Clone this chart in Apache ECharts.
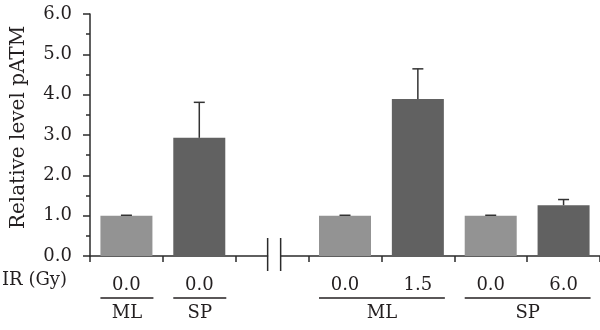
<!DOCTYPE html>
<html><head><meta charset="utf-8">
<script src="https://cdn.jsdelivr.net/npm/echarts@6/dist/echarts.min.js"></script>
<style>html,body{margin:0;padding:0;background:#fff}#c{width:600px;height:330px}</style>
</head><body><div id="c"></div>
<script>
const categories = ['ML 0.0', 'SP 0.0', 'gap', 'ML 0.0 b', 'ML 1.5', 'SP 0.0 b', 'SP 6.0'];
const doseLabels = ['0.0', '0.0', '', '0.0', '1.5', '0.0', '6.0'];
const values = [1.0, 2.93, null, 1.0, 3.89, 1.0, 1.26];
const errors = [0.01, 0.88, null, 0.01, 0.75, 0.01, 0.14];
const shades = ['light', 'dark', null, 'light', 'dark', 'light', 'dark'];
const groups = [
  { name: 'ML', from: 0, to: 0 },
  { name: 'SP', from: 1, to: 1 },
  { name: 'ML', from: 3, to: 4 },
  { name: 'SP', from: 5, to: 6 }
];
const breakIndex = 2;
const rowLabel = 'IR (Gy)';
const yTitle = 'Relative level pATM';

const FONT = 'DejaVu Serif';
const FS = 18;
const TXT = '#231f20';
const AX = '#2b2b2b';
const COLORS = { light: '#939393', dark: '#616161' };
const BAR_W = 52;

const chart = echarts.init(document.getElementById('c'), null, { renderer: 'canvas' });

const barData = values.map((v, i) => v == null ? '-' : { value: v, itemStyle: { color: COLORS[shades[i]] } });
const errData = [];
values.forEach((v, i) => { if (v != null) errData.push([i, v, errors[i]]); });

chart.setOption({
  animation: false,
  grid: { left: 90, top: 14, width: 510, height: 242 },
  xAxis: {
    type: 'category',
    data: categories,
    axisLine: { show: true, lineStyle: { color: AX, width: 1.5 } },
    axisTick: { show: true, length: 6, lineStyle: { color: AX, width: 1.5 } },
    axisLabel: {
      margin: 20,
      fontFamily: FONT, fontSize: FS, color: TXT,
      formatter: (val, idx) => doseLabels[idx]
    },
    splitLine: { show: false }
  },
  yAxis: {
    type: 'value', min: 0, max: 6, interval: 1,
    name: yTitle, nameLocation: 'middle', nameGap: 61, nameRotate: 90,
    nameTextStyle: { fontFamily: FONT, fontSize: 20, color: TXT, padding: [0, 0, 0, 15] },
    axisLine: { show: true, lineStyle: { color: AX, width: 1.5 } },
    axisTick: { show: true, length: 7, lineStyle: { color: AX, width: 1.5 } },
    minorTick: { show: true, splitNumber: 2, length: 4, lineStyle: { color: AX, width: 1.5 } },
    axisLabel: { fontFamily: FONT, fontSize: FS, color: TXT, margin: 18, formatter: v => v.toFixed(1) },
    splitLine: { show: false }
  },
  series: [
    { type: 'bar', data: barData, barWidth: BAR_W, z: 2 },
    {
      type: 'custom', data: errData, z: 3,
      renderItem: (params, api) => {
        const x = api.value(0), m = api.value(1), e = api.value(2);
        const base = api.coord([x, m]);
        const top = api.coord([x, m + e]);
        return {
          type: 'group', children: [
            { type: 'line', shape: { x1: base[0], y1: base[1], x2: top[0], y2: top[1] }, style: { stroke: '#333', lineWidth: 1.5 } },
            { type: 'line', shape: { x1: top[0] - 5.5, y1: top[1], x2: top[0] + 5.5, y2: top[1] }, style: { stroke: '#333', lineWidth: 1.5 } }
          ]
        };
      }
    }
  ]
});

// decorations positioned from the library's scales
const y0 = chart.convertToPixel({ yAxisIndex: 0 }, 0);
const px = i => chart.convertToPixel({ xAxisIndex: 0 }, i);
const txtStyle = (t, align) => ({ text: t, fontFamily: FONT, fontSize: FS, fill: TXT, align: align, verticalAlign: 'middle' });
const g = [];
groups.forEach(gr => {
  const x1 = px(gr.from) - BAR_W / 2;
  const x2 = px(gr.to) + BAR_W / 2 + 1;
  g.push({ type: 'line', shape: { x1: x1, y1: y0 + 42, x2: x2, y2: y0 + 42 }, style: { stroke: TXT, lineWidth: 1.5 } });
  g.push({ type: 'text', x: (x1 + x2) / 2, y: y0 + 57, style: txtStyle(gr.name, 'center') });
});
g.push({ type: 'text', x: 2, y: y0 + 24, style: txtStyle(rowLabel, 'left') });
const bc = px(breakIndex) + 2;
g.push({ type: 'rect', shape: { x: bc - 6, y: y0 - 3, width: 12, height: 6 }, style: { fill: '#fff' }, z: 10 });
g.push({ type: 'line', shape: { x1: bc - 6.5, y1: y0 - 18, x2: bc - 6.5, y2: y0 + 15 }, style: { stroke: AX, lineWidth: 1.5 }, z: 11 });
g.push({ type: 'line', shape: { x1: bc + 6.5, y1: y0 - 18, x2: bc + 6.5, y2: y0 + 15 }, style: { stroke: AX, lineWidth: 1.5 }, z: 11 });
chart.setOption({ graphic: g });
</script>
</body></html>
